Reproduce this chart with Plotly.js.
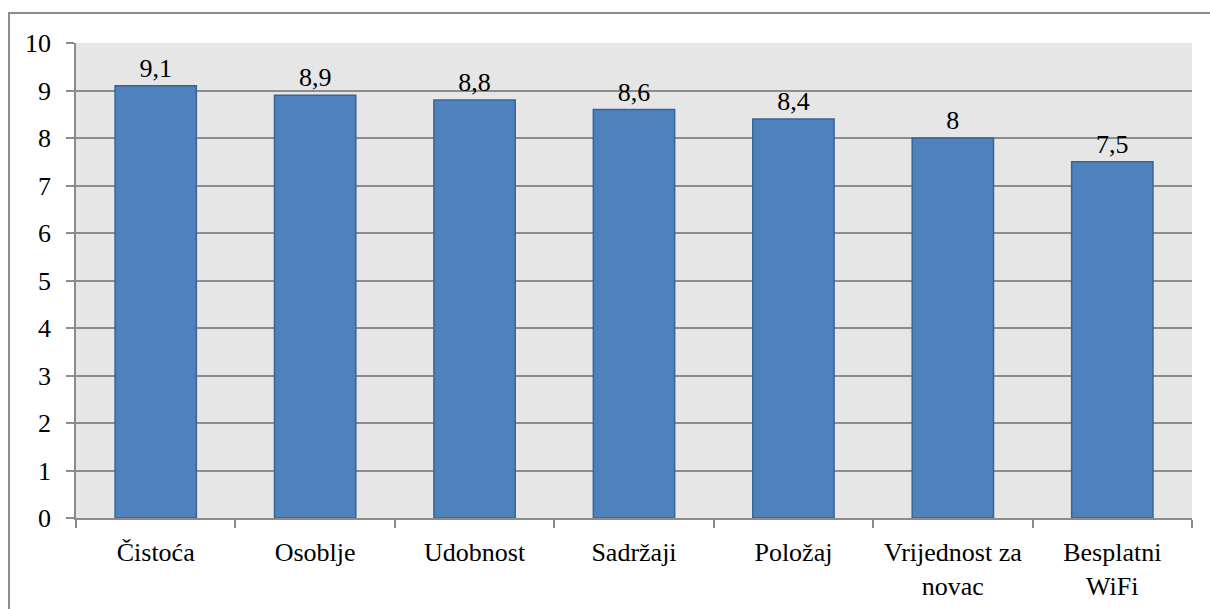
<!DOCTYPE html>
<html>
<head>
<meta charset="utf-8">
<script src="https://cdn.plot.ly/plotly-3.0.1.min.js"></script>
<style>html,body{margin:0;padding:0;background:#fff;} .modebar-container,.modebar{display:none !important;}</style>
</head>
<body>
<div id="chart"></div>
<script>
const categories = ["Čistoća", "Osoblje", "Udobnost", "Sadržaji", "Položaj", "Vrijednost za<br>novac", "Besplatni<br>WiFi"];
const values = [9.1, 8.9, 8.8, 8.6, 8.4, 8, 7.5];
const yTicks = [0, 1, 2, 3, 4, 5, 6, 7, 8, 9, 10];

const labels = values.map(v => String(v).replace('.', ','));
const FONT = 'Times New Roman';
const FS = 26;

const trace = {
  type: 'bar',
  x: categories,
  y: values,
  text: labels,
  textposition: 'outside',
  cliponaxis: false,
  textfont: {family: FONT, size: FS, color: '#000'},
  marker: {color: '#4f81bd', line: {color: '#3a6494', width: 1.5}}
};

const layout = {
  width: 1210, height: 609,
  margin: {l: 76, r: 18, t: 43, b: 91},
  paper_bgcolor: '#ffffff',
  plot_bgcolor: '#e6e6e6',
  bargap: 0.49,
  showlegend: false,
  font: {family: FONT, size: FS, color: '#000'},
  xaxis: {
    type: 'category',
    tickson: 'boundaries',
    ticks: 'outside',
    ticklen: 8,
    tickcolor: '#8c8c8c',
    tickwidth: 1.5,
    showgrid: false,
    showline: true,
    linecolor: '#8c8c8c',
    linewidth: 1.5,
    ticklabelstandoff: 10,
    tickfont: {size: FS, family: FONT, color: '#000'}
  },
  yaxis: {
    range: [0, 10],
    tickvals: yTicks,
    ticktext: yTicks.map(String),
    ticks: 'outside',
    ticklen: 8,
    tickcolor: '#8c8c8c',
    tickwidth: 1.5,
    showgrid: true,
    gridcolor: '#8c8c8c',
    gridwidth: 1.5,
    zeroline: false,
    showline: true,
    linecolor: '#8c8c8c',
    linewidth: 1.5,
    ticklabelstandoff: 10,
    tickfont: {size: FS, family: FONT, color: '#000'}
  },
  shapes: [{
    type: 'rect', xref: 'paper', yref: 'paper',
    x0: -0.060, x1: 1.03, y0: -0.25, y1: 1.063,
    line: {color: '#8c8c8c', width: 2}, fillcolor: 'rgba(0,0,0,0)', layer: 'below'
  }]
};

Plotly.newPlot('chart', [trace], layout);
</script>
</body>
</html>
